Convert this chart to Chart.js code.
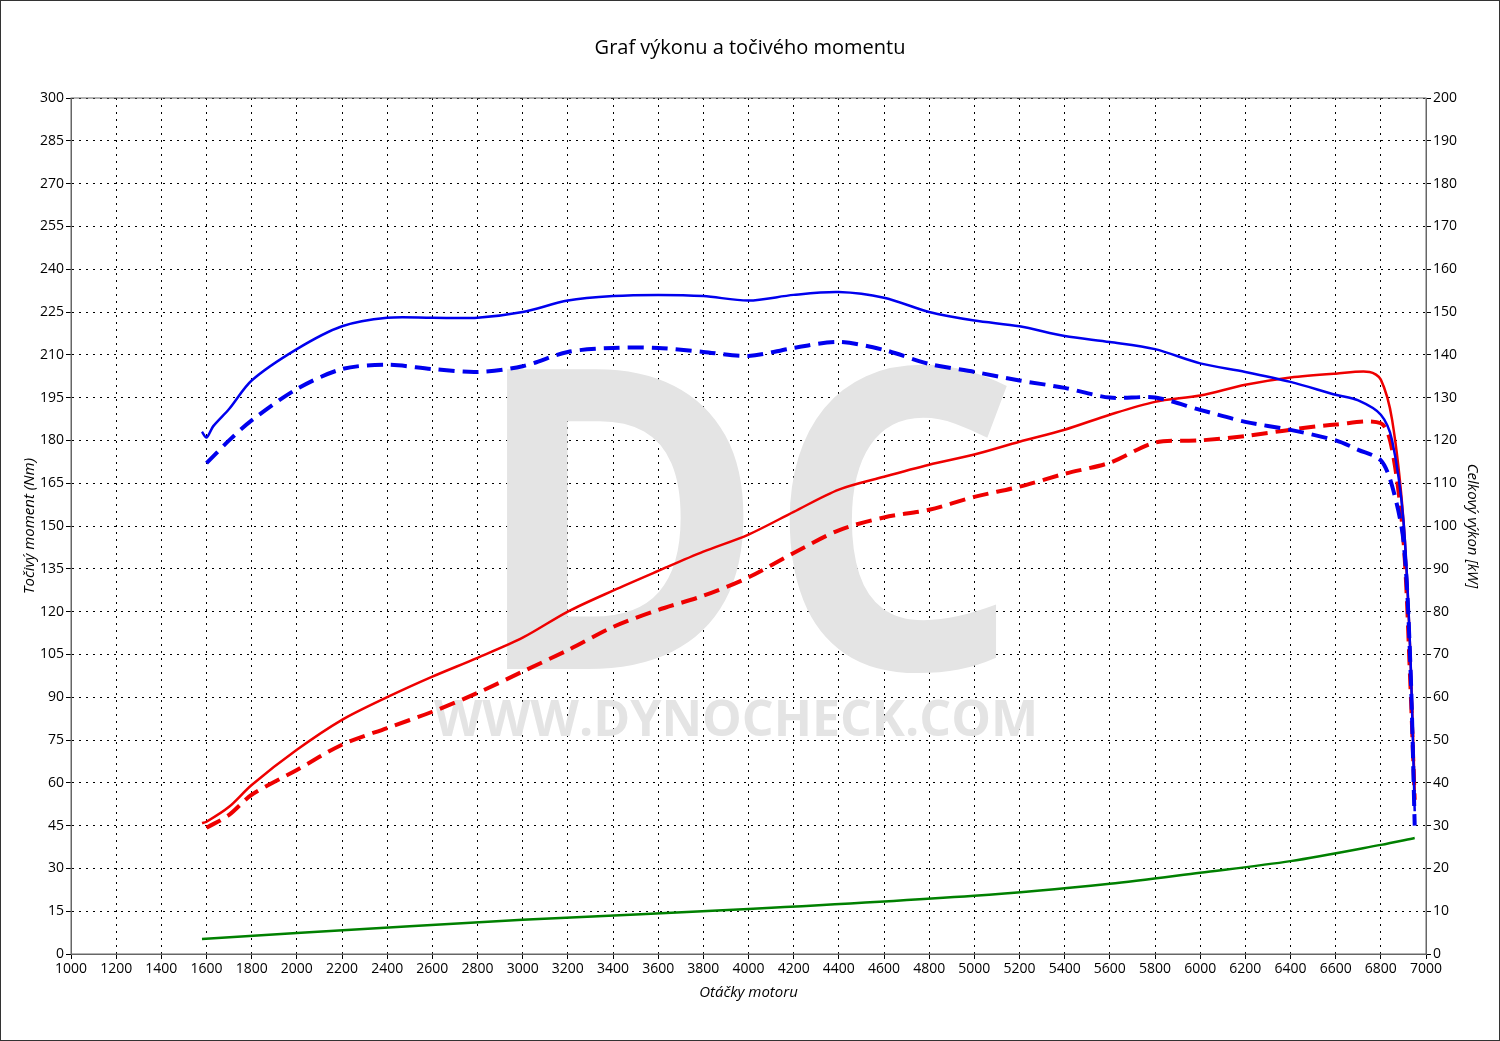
<!DOCTYPE html>
<html lang="cs">
<head>
<meta charset="UTF-8">
<title>Graf výkonu a točivého momentu</title>
<style>
  html, body { margin: 0; padding: 0; background: #fff; }
  #wrap { width: 1498px; height: 1039px; border: 1px solid #333; position: relative; }
</style>
<script src="https://cdn.jsdelivr.net/npm/chart.js"></script>
</head>
<body>
<div id="wrap"><canvas id="c" width="1498" height="1039"></canvas></div>
<script>
// rpm / value pairs
const torqueTunedRpm = [1580,1600,1630,1700,1800,2000,2200,2400,2600,2800,3000,3200,3400,3600,3800,4000,4200,4400,4600,4800,5000,5200,5400,5600,5800,6000,6200,6400,6600,6700,6800,6850,6900,6930,6950];
const torqueTuned = [183,181,185,191,201,212,220,223,223,223,225,229,230.6,231,230.6,229,231,232,230,225,222,220,216.6,214.5,212,207,204,200.5,196,194,189,180,152,106.5,50];

const torqueStockRpm = [1600,1700,1800,2000,2200,2400,2600,2800,3000,3200,3400,3600,3800,4000,4200,4400,4600,4800,5000,5200,5400,5600,5800,6000,6200,6400,6600,6700,6800,6850,6900,6930,6950];
const torqueStock = [172,180,187,198,205,206.5,205,204,206,211,212.4,212.4,211,209.6,212.4,214.5,211.7,206.8,204,201,198.4,195,195,190.7,186.5,183.7,180,176.7,173,164,145,103,45];

const powerTunedRpm = [1580,1600,1700,1800,2000,2200,2400,2600,2800,3000,3200,3400,3600,3800,4000,4200,4400,4600,4800,5000,5200,5400,5600,5800,6000,6200,6400,6600,6750,6800,6850,6900,6930,6950];
const powerTuned = [30.6,30.9,34.4,39.5,47.7,54.7,60,64.8,69.2,73.9,80,84.9,89.5,94,98,103.3,108.5,111.5,114.3,116.7,119.7,122.5,126,129,130.5,133,134.7,135.6,136,134.2,124.8,101.5,71,38];

const powerStockRpm = [1600,1700,1800,2000,2200,2400,2600,2800,3000,3200,3400,3600,3800,4000,4200,4400,4600,4800,5000,5200,5400,5600,5800,6000,6200,6400,6600,6800,6850,6900,6930,6950];
const powerStock = [29.5,32.5,37.2,43,48.9,52.8,56.6,61,66,71,76.4,80.4,83.7,88,93.7,99,102,103.8,106.8,109.2,112.2,114.8,119.5,120,121,122.5,123.7,124,117.8,96.8,64,36];

const lossRpm = [1580,2000,3000,4000,5000,5600,6000,6400,6800,6950];
const loss = [3.5,4.9,8,10.5,13.6,16.4,19,21.7,25.5,27.1];

const pts = (xs, ys) => xs.map((x, i) => ({ x: x, y: ys[i] }));
const font = "'Open Sans', sans-serif";

const watermark = {
  id: 'watermark',
  beforeDatasetsDraw(chart) {
    const ctx = chart.ctx;
    const a = chart.chartArea;
    ctx.save();
    ctx.fillStyle = '#e4e4e4';
    ctx.textAlign = 'center';
    ctx.textBaseline = 'alphabetic';
    ctx.font = 'bold 420px ' + font;
    ctx.save();
    ctx.translate(745, 668);
    ctx.scale(0.95, 1);
    ctx.fillText('DC', 0, 0);
    ctx.restore();
    ctx.font = 'bold 50px ' + font;
    ctx.fillText('WWW.DYNOCHECK.COM', 735, 735);
    ctx.fillStyle = '#000';
    ctx.font = '20px ' + font;
    ctx.fillText('Graf výkonu a točivého momentu', 749, 53);
    ctx.strokeStyle = '#666';
    ctx.lineWidth = 1;
    ctx.strokeRect(a.left, a.top, a.right - a.left, a.bottom - a.top);
    ctx.restore();
  }
};

const grid = { color: '#000', tickLength: 5, tickColor: '#000' };
const plain = v => String(v);

new Chart(document.getElementById('c'), {
  type: 'line',
  data: {
    datasets: [
      { data: pts(torqueTunedRpm, torqueTuned), borderColor: '#0000ee', borderWidth: 2.5, yAxisID: 'y' },
      { data: pts(torqueStockRpm, torqueStock), borderColor: '#0000ee', borderWidth: 4, borderDash: [16, 8], yAxisID: 'y' },
      { data: pts(powerTunedRpm, powerTuned), borderColor: '#ee0000', borderWidth: 2.5, yAxisID: 'y2' },
      { data: pts(powerStockRpm, powerStock), borderColor: '#ee0000', borderWidth: 4, borderDash: [16, 8], yAxisID: 'y2' },
      { data: pts(lossRpm, loss), borderColor: '#008000', borderWidth: 2.5, yAxisID: 'y2' }
    ]
  },
  options: {
    responsive: false,
    animation: false,
    layout: { padding: { top: 97, bottom: 38, left: 20, right: 18 } },
    elements: { point: { radius: 0 }, line: { tension: 0.3, fill: false } },
    plugins: { legend: { display: false }, tooltip: { enabled: false } },
    scales: {
      x: {
        type: 'linear', min: 1000, max: 7000,
        afterFit: s => { s.height = 48; },
        ticks: { stepSize: 200, color: '#000', font: { family: font, size: 14 }, maxRotation: 0, padding: 2, callback: plain },
        grid: grid,
        border: { color: '#666', dash: [2, 5] },
        title: { display: true, text: 'Otáčky motoru', color: '#000', font: { family: font, size: 15, style: 'italic' }, padding: 0 }
      },
      y: {
        position: 'left', min: 0, max: 300,
        afterFit: s => { s.width = 50; },
        ticks: { stepSize: 15, color: '#000', font: { family: font, size: 14 }, padding: 2, callback: plain },
        grid: grid,
        border: { color: '#666', dash: [2, 5] },
        title: { display: true, text: 'Točivý moment (Nm)', color: '#000', font: { family: font, size: 15, style: 'italic' }, padding: 0 }
      },
      y2: {
        position: 'right', min: 0, max: 200,
        afterFit: s => { s.width = 55; },
        ticks: { stepSize: 10, color: '#000', font: { family: font, size: 14 }, padding: 2, callback: plain },
        grid: { drawOnChartArea: false, tickLength: 5, tickColor: '#000' },
        border: { color: '#666' },
        title: { display: true, text: 'Celkový výkon [kW]', color: '#000', font: { family: font, size: 15, style: 'italic' }, padding: 0 }
      }
    }
  },
  plugins: [watermark]
});
</script>
</body>
</html>
